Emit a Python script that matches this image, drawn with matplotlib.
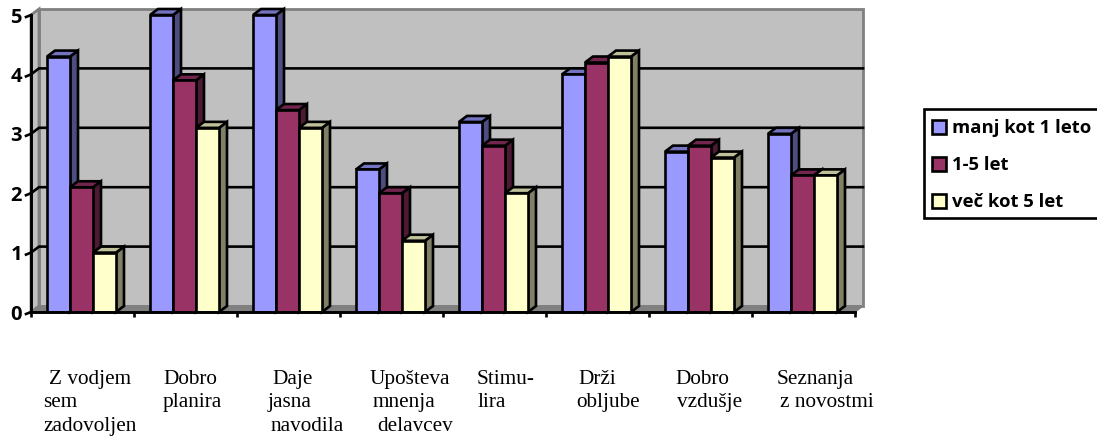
import matplotlib
matplotlib.use("Agg")
import matplotlib.pyplot as plt
from matplotlib.patches import Polygon, Rectangle

categories = [
    ["Z vodjem", "sem", "zadovoljen"],
    ["Dobro", "planira"],
    ["Daje", "jasna", "navodila"],
    ["Upošteva", "mnenja", "delavcev"],
    ["Stimu-", "lira"],
    ["Drži", "obljube"],
    ["Dobro", "vzdušje"],
    ["Seznanja", "z novostmi"],
]
series_names = ["manj kot 1 leto", "1-5 let", "več kot 5 let"]
manj_kot_1 = [4.3, 5.0, 5.0, 2.4, 3.2, 4.0, 2.7, 3.0]
od_1_do_5 = [2.1, 3.9, 3.4, 2.0, 2.8, 4.2, 2.8, 2.3]
vec_kot_5 = [1.0, 3.1, 3.1, 1.2, 2.0, 4.3, 2.6, 2.3]

front_colors = ["#9999ff", "#993366", "#ffffcc"]
top_colors = ["#7373c0", "#73264d", "#c0c09a"]
side_colors = ["#4d4d80", "#4d1a33", "#808066"]

W, H = 1097, 436
fig = plt.figure(figsize=(W / 100, H / 100), dpi=100)
ax = fig.add_axes([31 / W, 1 - 312 / H, 824 / W, 297 / H])
ax.set_xlim(0, 8)
ax.set_ylim(0, 5)
ax.patch.set_visible(False)

# depth of the fake 3d box, in data units
dx = 8 / 103
dy = 6 / 59.4
bar_w = 23 / 103
bar_start = 16 / 103
line_w = 1.9


def poly(points, face, edge="black", lw=line_w, z=2):
    ax.add_patch(Polygon(points, closed=True, facecolor=face, edgecolor=edge,
                         linewidth=lw, zorder=z, clip_on=False, joinstyle="miter"))


# walls and floor
poly([(dx, dy), (8 + dx, dy), (8 + dx, 5 + dy), (dx, 5 + dy)], "#c0c0c0", "#808080", 2, 1)
poly([(0, 0), (dx, dy), (dx, 5 + dy), (0, 5)], "#c0c0c0", "#808080", 2, 1)
poly([(0, 0), (8, 0), (8 + dx, dy), (dx, dy)], "#808080", "#808080", 1, 1)

for v in range(1, 5):
    ax.plot([0, dx, 8 + dx], [v, v + dy, v + dy], color="black", lw=line_w, zorder=1.5,
            solid_joinstyle="miter", clip_on=False)

# bars, drawn left to right so each one covers the side of its neighbour
z = 3
for i in range(len(categories)):
    values = [manj_kot_1[i], od_1_do_5[i], vec_kot_5[i]]
    for j, val in enumerate(values):
        x0 = i + bar_start + j * bar_w
        x1 = x0 + bar_w
        poly([(x1, 0), (x1 + dx, dy), (x1 + dx, val + dy), (x1, val)], side_colors[j], z=z)
        poly([(x0, val), (x1, val), (x1 + dx, val + dy), (x0 + dx, val + dy)], top_colors[j], z=z)
        ax.bar(x0, val, width=bar_w, align="edge", color=front_colors[j],
               edgecolor="black", linewidth=line_w, zorder=z + 0.5)
        z += 1

for s in ["top", "right"]:
    ax.spines[s].set_visible(False)
for s in ["left", "bottom"]:
    ax.spines[s].set_linewidth(line_w + 0.2)
    ax.spines[s].set_zorder(100)

ax.set_xticks(range(9))
ax.set_xticklabels([])
ax.set_yticks(range(6))
ax.tick_params(axis="x", direction="out", length=3.5, width=line_w)
ax.tick_params(axis="y", length=0, pad=6.5)
for lab in ax.get_yticklabels():
    lab.set_fontfamily("Open Sans")
    lab.set_fontweight("bold")
    lab.set_fontsize(14.5)

# the y ticks lean the same way as the box depth
for v in range(6):
    ax.plot([-5 / 103, 0], [v - 2 / 59.4, v], color="black", lw=line_w, clip_on=False, zorder=100)

# category names sit well below the axis, each line placed on its own
line_x = [
    [49, 43, 43],
    [163, 163],
    [272, 268, 271],
    [370, 373, 377],
    [477, 478],
    [578, 576],
    [675, 677],
    [777, 780],
]
line_y = [384, 407, 431]
for lines, xs in zip(categories, line_x):
    for text, x, y in zip(lines, xs, line_y):
        fig.text(x / W, 1 - y / H, text, family="Liberation Serif", fontsize=15.3,
                 ha="left", va="baseline", color="black")

# legend box runs off the right edge
fig.add_artist(Rectangle((924 / W, 1 - 218 / H), 200 / W, 109 / H, transform=fig.transFigure,
                         facecolor="white", edgecolor="black", linewidth=line_w))
for name, color, y in zip(series_names, front_colors, [127, 164, 201]):
    fig.add_artist(Rectangle((932 / W, 1 - (y + 7) / H), 14 / W, 14 / H, transform=fig.transFigure,
                             facecolor=color, edgecolor="black", linewidth=line_w))
    fig.text(952 / W, 1 - (y + 1) / H, name, family="Open Sans", fontweight="bold", fontsize=13.3,
             ha="left", va="center", color="black")

fig.savefig("out.png", dpi=100)
